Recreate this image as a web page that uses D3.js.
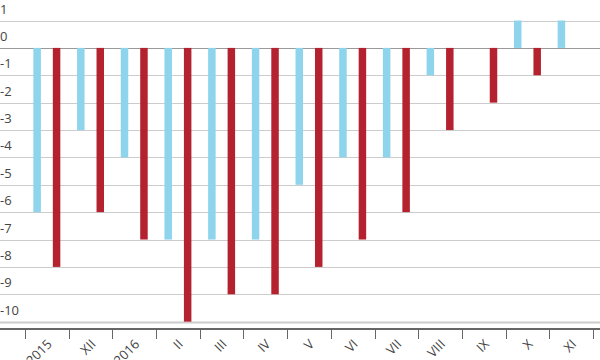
<!DOCTYPE html>
<html>
<head>
<meta charset="utf-8">
<script src="https://cdn.jsdelivr.net/npm/d3@7"></script>
<style>
  body { margin: 0; background: #fff; }
  text { font-family: "Open Sans", sans-serif; }
</style>
</head>
<body>
<div id="chart"></div>
<script>
var width = 600, height = 360;

// data
var categories = ["2015", "XII", "2016", "II", "III", "IV", "V", "VI", "VII", "VIII", "IX", "X", "XI"];
var seriesA = [-6, -3, -4, -7, -7, -7, -5, -4, -4, -1, 0, 1, 1];
var seriesB = [-8, -6, -7, -10, -9, -9, -8, -7, -6, -3, -2, -1, 0];
var yTicks = [1, 0, -1, -2, -3, -4, -5, -6, -7, -8, -9, -10];
var seriesKeys = ["a", "b"];
var colors = {a: "#8dd4ec", b: "#b5222f"};

var svg = d3.select("#chart").append("svg")
  .attr("width", width)
  .attr("height", height);

var xScale = d3.scaleBand()
  .domain(categories)
  .range([25, 593])
  .padding(0);

var x1 = d3.scaleBand()
  .domain(seriesKeys)
  .range([0, xScale.bandwidth()])
  .paddingInner(0.615)
  .paddingOuter(0.43);

var yScale = d3.scaleLinear()
  .domain([-10.25, 1.75])
  .range([328.5, 0]);

// gridlines
svg.append("g").selectAll("line")
  .data(yTicks)
  .enter().append("line")
    .attr("x1", 0)
    .attr("x2", width)
    .attr("y1", function(d) { return Math.round(yScale(d)) + 0.5; })
    .attr("y2", function(d) { return Math.round(yScale(d)) + 0.5; })
    .style("stroke", function(d) { return d === 0 ? "#999" : "#ccc"; })
    .style("stroke-width", function(d) { return d === -10 ? 2 : 1; });

// y labels
svg.append("g").selectAll("text")
  .data(yTicks)
  .enter().append("text")
    .attr("x", 0)
    .attr("y", function(d) { return yScale(d) - 7; })
    .style("font-size", "13px")
    .style("fill", "#444")
    .text(function(d) { return d; });

// bars
var rows = categories.map(function(c, i) { return {cat: c, a: seriesA[i], b: seriesB[i]}; });

var groups = svg.append("g").selectAll("g")
  .data(rows)
  .enter().append("g")
    .attr("transform", function(d) { return "translate(" + xScale(d.cat) + ",0)"; });

groups.selectAll("rect")
  .data(function(d) { return seriesKeys.map(function(k) { return {key: k, value: d[k]}; }); })
  .enter().append("rect")
    .attr("x", function(d) { return x1(d.key); })
    .attr("width", x1.bandwidth())
    .attr("y", function(d) { return yScale(Math.max(0, d.value)); })
    .attr("height", function(d) { return Math.abs(yScale(d.value) - yScale(0)); })
    .attr("fill", function(d) { return colors[d.key]; });

// x axis
var xAxis = svg.append("g")
  .attr("transform", "translate(0,329)");

xAxis.append("line")
  .attr("x1", 0)
  .attr("x2", width)
  .style("stroke", "#333")
  .style("stroke-width", 1.5);

var tickPos = categories.map(function(c) { return xScale(c); }).concat([xScale.range()[1]]);

xAxis.selectAll(".tick")
  .data(tickPos)
  .enter().append("line")
    .attr("class", "tick")
    .attr("x1", function(d) { return Math.round(d) + 0.5; })
    .attr("x2", function(d) { return Math.round(d) + 0.5; })
    .attr("y1", 0)
    .attr("y2", 10)
    .style("stroke", "#666");

xAxis.selectAll(".label")
  .data(categories)
  .enter().append("text")
    .attr("class", "label")
    .attr("text-anchor", "end")
    .attr("transform", function(d) {
      return "translate(" + (xScale(d) + xScale.bandwidth() / 2 + 6) + ",16) rotate(-45)";
    })
    .style("font-size", "13px")
    .style("fill", "#444")
    .text(function(d) { return d; });
</script>
</body>
</html>
